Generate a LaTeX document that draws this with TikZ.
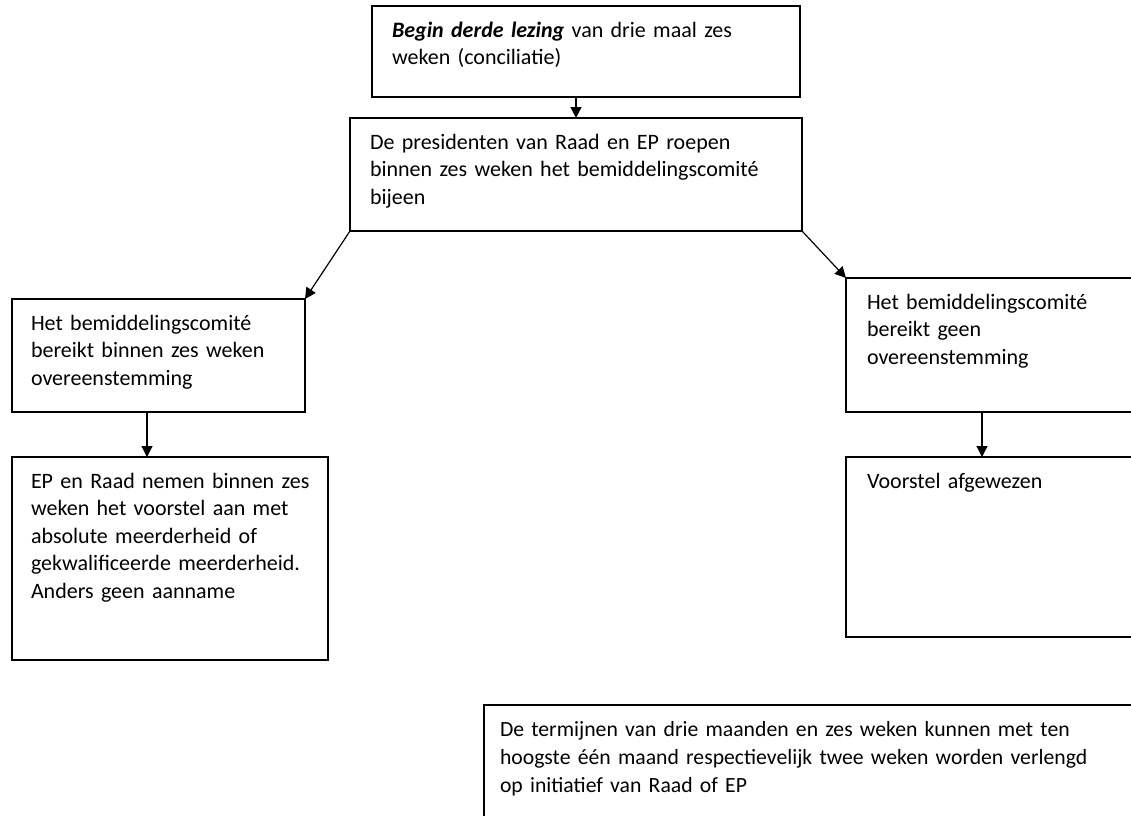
\documentclass[tikz,border=0pt]{standalone}
\usepackage{fontspec}
\setmainfont{Carlito}
\usetikzlibrary{arrows.meta}
\tikzset{
  box/.style={draw, line width=1.3pt, anchor=north west, outer sep=0pt,
    align=left, inner ysep=11pt, text height=20pt,
    font=\fontsize{22pt}{27.5pt}\selectfont},
  arr/.style={line width=1.2pt, -{Triangle[length=11pt,width=11pt]}},
}
\begin{document}
\begin{tikzpicture}[x=1pt,y=-1pt]
\clip (0,0) rectangle (1131,815);
\node[box, minimum width=428pt, text width=388pt, inner xsep=20pt, text depth=49pt] (top) at (372,6)
  {\mbox{\textbf{\textit{Begin derde lezing}} van drie maal zes}\\weken (conciliatie)};
\node[box, minimum width=452pt, text width=412pt, inner xsep=20pt, text depth=71pt] (pres) at (350,118)
  {\mbox{De presidenten van Raad en EP roepen}\\\mbox{binnen zes weken het bemiddelingscomité}\\bijeen};
\node[box, minimum width=293pt, text width=255pt, inner xsep=19pt, text depth=71pt] (left1) at (12,299)
  {Het bemiddelingscomité\\\mbox{bereikt binnen zes weken}\\overeenstemming};
\node[box, minimum width=316pt, text width=278pt, inner xsep=19pt, text depth=161pt] (left2) at (12,457)
  {\mbox{EP en Raad nemen binnen zes}\\\mbox{weken het voorstel aan met}\\\mbox{absolute meerderheid of}\\\mbox{gekwalificeerde meerderheid.}\\\mbox{Anders geen aanname}};
\node[box, minimum width=300pt, text width=258pt, inner xsep=21pt, text depth=92pt] (right1) at (846,278)
  {Het bemiddelingscomité\\bereikt geen\\overeenstemming};
\node[box, minimum width=300pt, text width=258pt, inner xsep=21pt, text depth=138pt] (right2) at (846,457)
  {Voorstel afgewezen};
\node[box, minimum width=700pt, text width=668pt, inner xsep=16pt, text depth=158pt,
  font=\fontsize{21.7pt}{28pt}\selectfont] (note) at (484,705)
  {\mbox{De termijnen van drie maanden en zes weken kunnen met ten}\\\mbox{hoogste één maand respectievelijk twee weken worden verlengd}\\op initiatief van Raad of EP};
\draw[arr] (top.south -| pres.north) -- (pres.north);
\draw[arr] (pres.south west) -- (left1.north east);
\draw[arr] (pres.south east) -- (right1.north west);
\draw[arr] ([xshift=135pt]left1.south west) -- ([xshift=135pt]left2.north west);
\draw[arr] ([xshift=136pt]right1.south west) -- ([xshift=136pt]right2.north west);
\end{tikzpicture}
\end{document}
